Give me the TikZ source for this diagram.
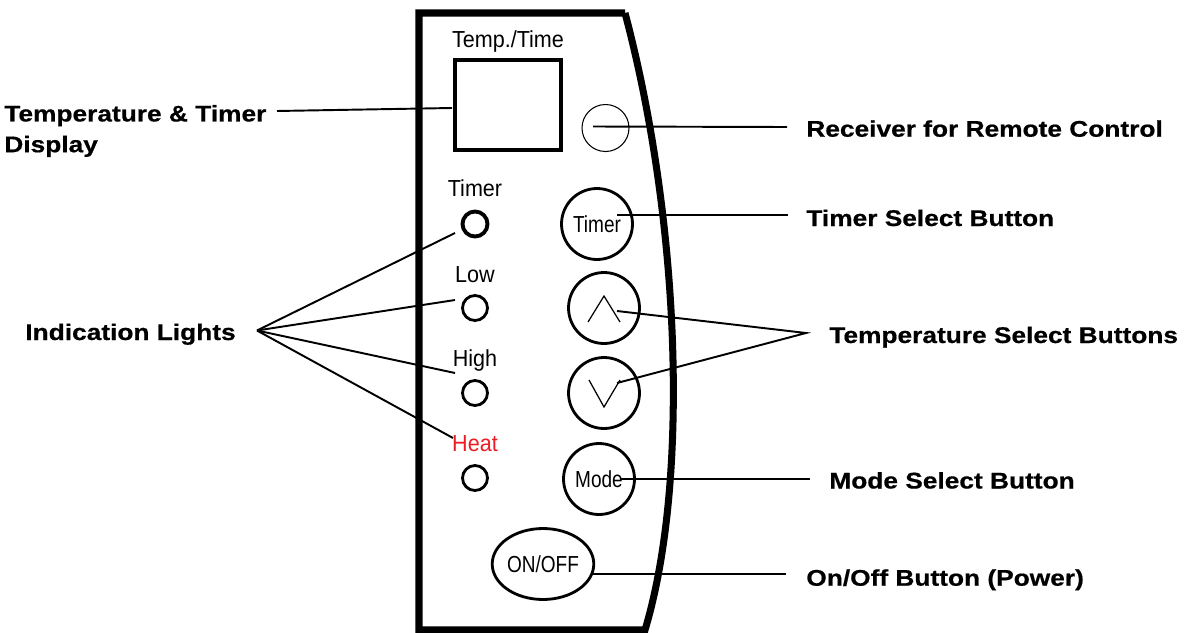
\documentclass[tikz,border=0pt]{standalone}
\usepackage{fontspec}
\setmainfont{Liberation Sans}
\newfontfamily\calloutfont{Liberation Sans}[FakeStretch=1.16,FakeBold=0.6]
\newfontfamily\panelfont{Liberation Sans}[FakeStretch=0.93]
\newfontfamily\keyfont{Liberation Sans}[FakeStretch=0.82]
\usetikzlibrary{positioning,calc,shapes.geometric}
\definecolor{heatred}{HTML}{ED1C24}

\begin{document}
\begin{tikzpicture}[x=0.02cm, y=-0.02cm,
        callout/.style={font=\calloutfont\bfseries\fontsize{12.9}{17.5}\selectfont,
          inner sep=0pt, anchor=base west},
        panellabel/.style={font=\panelfont\fontsize{13.2}{15}\selectfont,
          inner sep=0pt, anchor=base},
        lightnode/.style={circle, draw, line width=1.6pt, minimum size=0.5cm,
          inner sep=0pt},
        keynode/.style={circle, draw, line width=1.6pt, minimum size=1.42cm,
          inner sep=0pt, font=\keyfont\fontsize{13.2}{15}\selectfont},
        leader/.style={line width=1.1pt},
        chevron/.style={line width=0.7pt},
      ]
      \useasboundingbox (0,0) rectangle (1193,632);

      % Panel outline with the curved right side
      \draw[line width=4pt] (625,13) -- (419,13) -- (419,630) -- (645,630)
        .. controls (690,480) and (680,220) .. (625,13);

      % Display and receiver
      \node[panellabel] (displaytitle) at (508,47.7) {Temp./Time};
      \node[draw, line width=2.6pt, minimum width=2.12cm, minimum height=1.8cm,
        inner sep=0pt] (display) at (508,105) {};
      \node[circle, draw, line width=0.6pt, minimum size=0.94cm, inner sep=0pt]
        (receiver) at (605.5,128) {};

      % Indication lights
      \node[panellabel] (timertext) at (475,196.7) {Timer};
      \node[lightnode, line width=2.2pt] (timerlight) at (475,224) {};
      \node[panellabel] (lowtext) at (475,282.7) {Low};
      \node[lightnode] (lowlight) at (475,308) {};
      \node[panellabel] (hightext) at (475,366.7) {High};
      \node[lightnode] (highlight) at (475,393) {};
      \node[panellabel, text=heatred] (heattext) at (475,451.7) {Heat};
      \node[lightnode] (heatlight) at (475,478) {};

      % Keys
      \node[keynode] (timerkey) at (597,224) {Timer};
      \node[keynode] (upkey) at (604,308) {};
      \draw[chevron] ($(upkey)+(-16,14)$) -- ($(upkey)+(0,-12)$) -- ($(upkey)+(16,14)$);
      \node[keynode] (downkey) at (604,393) {};
      \draw[chevron] ($(downkey)+(-15,-13)$) -- ($(downkey)+(0,14)$) -- ($(downkey)+(16,-13)$);
      \node[keynode] (modekey) at (599,479) {Mode};
      \node[ellipse, draw, line width=1.6pt, minimum width=1.82cm, minimum height=1.42cm,
        inner sep=0pt, font=\keyfont\fontsize{13.2}{15}\selectfont] (powerkey) at (543,564) {ON/OFF};

      % Callout texts
      \node[callout, anchor=west, align=left] (displaycall) at (4,131)
        {Temperature \& Timer\\Display};
      \node[callout] (lightscall) at (25,340) {Indication Lights};
      \node[callout] (receivercall) at (806,136.7) {Receiver for Remote Control};
      \node[callout] (timercall) at (806,226) {Timer Select Button};
      \node[callout] (tempcall) at (829,343) {Temperature Select Buttons};
      \node[callout] (modecall) at (829,488.5) {Mode Select Button};
      \node[callout] (powercall) at (806,585.7) {On/Off Button (Power)};

      % Leader ends
      \coordinate (displayout) at (277,111);
      \coordinate (displayin) at (452,108);
      \coordinate (lighthub) at (257,330.5);
      \coordinate (timerlightend) at (455,233);
      \coordinate (lowlightend) at (455,300);
      \coordinate (highlightend) at (455,373);
      \coordinate (heatlightend) at (453,438);
      \coordinate (receiverin) at (593,126.5);
      \coordinate (receiverout) at (787,127);
      \coordinate (timerin) at (617,215);
      \coordinate (timerout) at (788,215);
      \coordinate (upin) at (617,311);
      \coordinate (downin) at (617,383);
      \coordinate (tempjoin) at (806,333);
      \coordinate (modein) at (620,479);
      \coordinate (modeout) at (810,479);
      \coordinate (powerin) at (593,574);
      \coordinate (powerout) at (786,574);

      % Leaders
      \draw[leader] (displayout) -- (displayin);
      \foreach \lightend in {timerlightend,lowlightend,highlightend,heatlightend}
        \draw[leader] (lighthub) -- (\lightend);
      \draw[leader] (receiverin) -- (receiverout);
      \draw[leader] (timerin) -- (timerout);
      \draw[leader] (upin) -- (tempjoin) -- (downin);
      \draw[leader] (modein) -- (modeout);
      \draw[leader] (powerin) -- (powerout);
    \end{tikzpicture}
\end{document}
